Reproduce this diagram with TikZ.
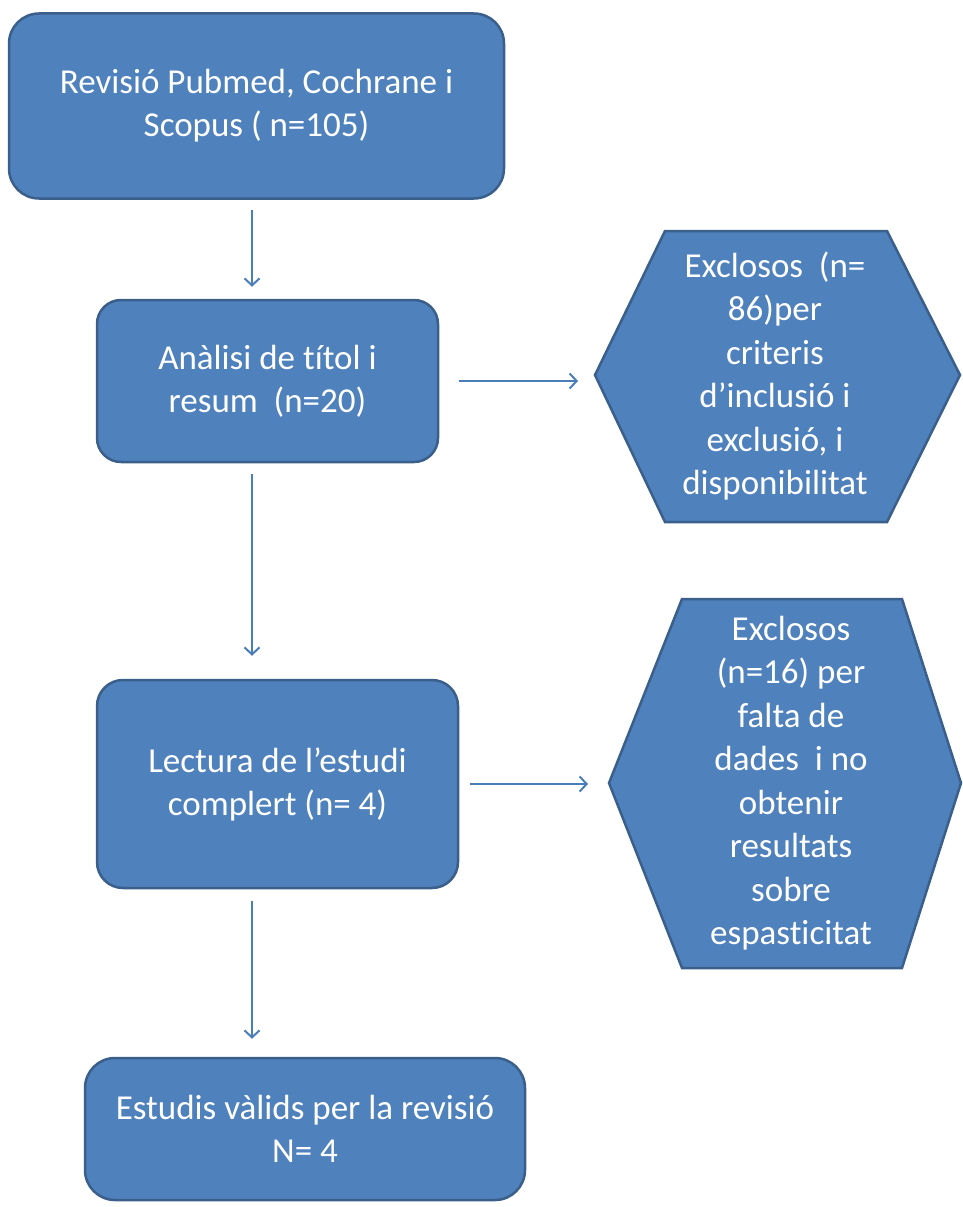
\documentclass[tikz,border=0pt]{standalone}
\usepackage{fontspec}
\setmainfont{Carlito}[Ligatures=NoCommon]
\usepackage{xcolor}
\usetikzlibrary{arrows.meta,calc}
\definecolor{boxblue}{HTML}{4F81BD}
\definecolor{edgeblue}{HTML}{3A5F8B}
\definecolor{arrowblue}{HTML}{4A7EBB}

\begin{document}
\begin{tikzpicture}[x=1pt, y=-1pt,
  >={Straight Barb[length=7pt,width=15pt]},
  box/.style={draw=edgeblue, line width=2.5pt, fill=boxblue, rounded corners=30pt,
    text=white, align=center, font=\fontsize{35}{43}\selectfont},
  hexa/.style={draw=edgeblue, line width=2.5pt, fill=boxblue, line join=miter},
  hexatext/.style={text=white, align=center, font=\fontsize{35}{43.5}\selectfont},
  flow/.style={->, draw=arrowblue, line width=2pt}]
\useasboundingbox (0,0) rectangle (963,1207);

% main column
\node[box, minimum width=495pt, minimum height=185pt] (search) at (256.5,106)
  {Revisió Pubmed, Cochrane i\\Scopus ( n=105)};
\node[box, minimum width=341pt, minimum height=162pt, rounded corners=24pt] (screen) at (267.5,381)
  {Anàlisi de títol i\\resum\ \ (n=20)};
\node[box, minimum width=361pt, minimum height=208pt, rounded corners=26pt] (fulltext) at (277.5,784)
  {Lectura de l’estudi\\complert (n= 4)};
\node[box, minimum width=440pt, minimum height=142pt] (valid) at (305,1129)
  {Estudis vàlids per la revisió\\N= 4};

% excluded
\draw[hexa] (595,375) coordinate (exA) -- (665,231) -- (887,231) -- (960,375)
  -- (887,522) -- (665,522) -- cycle;
\node[hexatext] (exclA) at (775,376)
  {Exclosos\ \ (n=\\86)per\\criteris\\d’inclusió i\\exclusió, i\\disponibilitat};
\draw[hexa] (609,783) coordinate (exB) -- (682,599) -- (902,599) -- (961,783)
  -- (902,968) -- (682,968) -- cycle;
\node[hexatext] (exclB) at (791,783)
  {Exclosos\\(n=16) per\\falta de\\dades\ \ i no\\obtenir\\resultats\\sobre\\espasticitat};

% arrows
\coordinate (spine) at (252,0);
\draw[flow, shorten <=10pt, shorten >=12pt] (search.south -| spine) -- (screen.north -| spine);
\draw[flow, shorten <=11pt, shorten >=23pt] (screen.south -| spine) -- (fulltext.north -| spine);
\draw[flow, shorten <=12pt, shorten >=18pt] (fulltext.south -| spine) -- (valid.north -| spine);
\draw[flow, shorten <=20pt, shorten >=17pt] (screen.east) -- (screen.east -| exA);
\draw[flow, shorten <=11pt, shorten >=21pt] (fulltext.east) -- (fulltext.east -| exB);
\end{tikzpicture}
\end{document}
